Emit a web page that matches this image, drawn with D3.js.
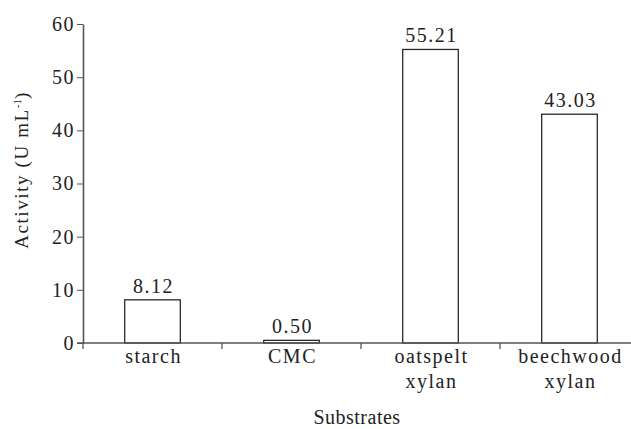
<!DOCTYPE html>
<html>
<head>
<meta charset="utf-8">
<script src="https://cdn.jsdelivr.net/npm/d3@7"></script>
</head>
<body style="margin:0;background:#fff">
<svg id="chart" width="631" height="429"></svg>
<script>
var width = 631;
var height = 429;

// data
var categories = ["starch", "CMC", "oatspelt xylan", "beechwood xylan"];
var activity = [8.12, 0.50, 55.21, 43.03];
var valueLabels = ["8.12", "0.50", "55.21", "43.03"];
var yTicks = [0, 10, 20, 30, 40, 50, 60];

var plotLeft = 83, plotTop = 24, plotBottom = 343;
var step = 139;
var serif = "'Liberation Serif', serif";

var svg = d3.select("#chart");

var x = d3.scaleBand()
  .domain(categories)
  .range([plotLeft, plotLeft + step * categories.length])
  .paddingInner(0.6)
  .paddingOuter(0.3);

var y = d3.scaleLinear().domain([0, 60]).range([plotBottom, plotTop]);

// bars
svg.selectAll("rect.bar").data(activity).enter().append("rect")
  .attr("class", "bar")
  .attr("x", function(d, i) { return x(categories[i]); })
  .attr("y", function(d) { return y(d); })
  .attr("width", x.bandwidth())
  .attr("height", function(d) { return y(0) - y(d); })
  .attr("fill", "#fff")
  .attr("stroke", "#2a2a2a")
  .attr("stroke-width", 1.3);

// value labels
svg.selectAll("text.val").data(activity).enter().append("text")
  .attr("class", "val")
  .attr("x", function(d, i) { return x(categories[i]) + x.bandwidth() / 2 + 1; })
  .attr("y", function(d) { return y(d) - 7; })
  .attr("text-anchor", "middle")
  .style("font-family", serif)
  .style("font-size", "20px")
  .style("letter-spacing", "1.5px")
  .style("fill", "#222")
  .text(function(d, i) { return valueLabels[i]; });

// y axis
var yAxis = svg.append("g")
  .attr("transform", "translate(" + plotLeft + ",0)")
  .call(d3.axisLeft(y).tickValues(yTicks).tickSize(6).tickSizeOuter(0).tickPadding(2));
yAxis.selectAll("text")
  .style("font-family", serif)
  .style("font-size", "20px")
  .style("letter-spacing", "1.5px")
  .attr("fill", "#222");
yAxis.selectAll("line").attr("stroke", "#555");
yAxis.select(".domain").attr("stroke", "#555").attr("stroke-width", 1.6);

// x axis line and boundary ticks
svg.append("line")
  .attr("x1", plotLeft - 6).attr("x2", width)
  .attr("y1", y(0)).attr("y2", y(0))
  .attr("stroke", "#555").attr("stroke-width", 1.6);

svg.selectAll("line.xt").data(d3.range(categories.length)).enter().append("line")
  .attr("class", "xt")
  .attr("x1", function(i) { return plotLeft + i * x.step(); })
  .attr("x2", function(i) { return plotLeft + i * x.step(); })
  .attr("y1", y(0)).attr("y2", y(0) + 6)
  .attr("stroke", "#555").attr("stroke-width", 1.3);

// category labels
var cat = svg.selectAll("text.cat").data(categories).enter().append("text")
  .attr("class", "cat")
  .attr("text-anchor", "middle")
  .attr("transform", function(d) { return "translate(" + (x(d) + x.bandwidth() / 2 + 1) + "," + (y(0) + 20) + ")"; })
  .style("font-family", serif)
  .style("font-size", "20px")
  .style("letter-spacing", "1.5px")
  .style("fill", "#222");
cat.selectAll("tspan").data(function(d) { return d.split(" "); }).enter().append("tspan")
  .attr("x", 0)
  .attr("dy", function(d, i) { return i === 0 ? 0 : 25; })
  .text(function(d) { return d; });

// axis titles
svg.append("text")
  .attr("x", 357).attr("y", 424)
  .attr("text-anchor", "middle")
  .style("font-family", serif)
  .style("font-size", "20px")
  .style("letter-spacing", "0.5px")
  .style("fill", "#222")
  .text("Substrates");

var yt = svg.append("text")
  .attr("transform", "translate(28,170) rotate(-90)")
  .attr("text-anchor", "middle")
  .style("font-family", serif)
  .style("font-size", "19px")
  .style("letter-spacing", "1.6px")
  .style("fill", "#222");
yt.append("tspan").text("Activity (U mL");
yt.append("tspan").attr("dy", -7).style("font-size", "11px").style("letter-spacing", "0px").text("-1");
yt.append("tspan").attr("dy", 7).text(")");
</script>
</body>
</html>
